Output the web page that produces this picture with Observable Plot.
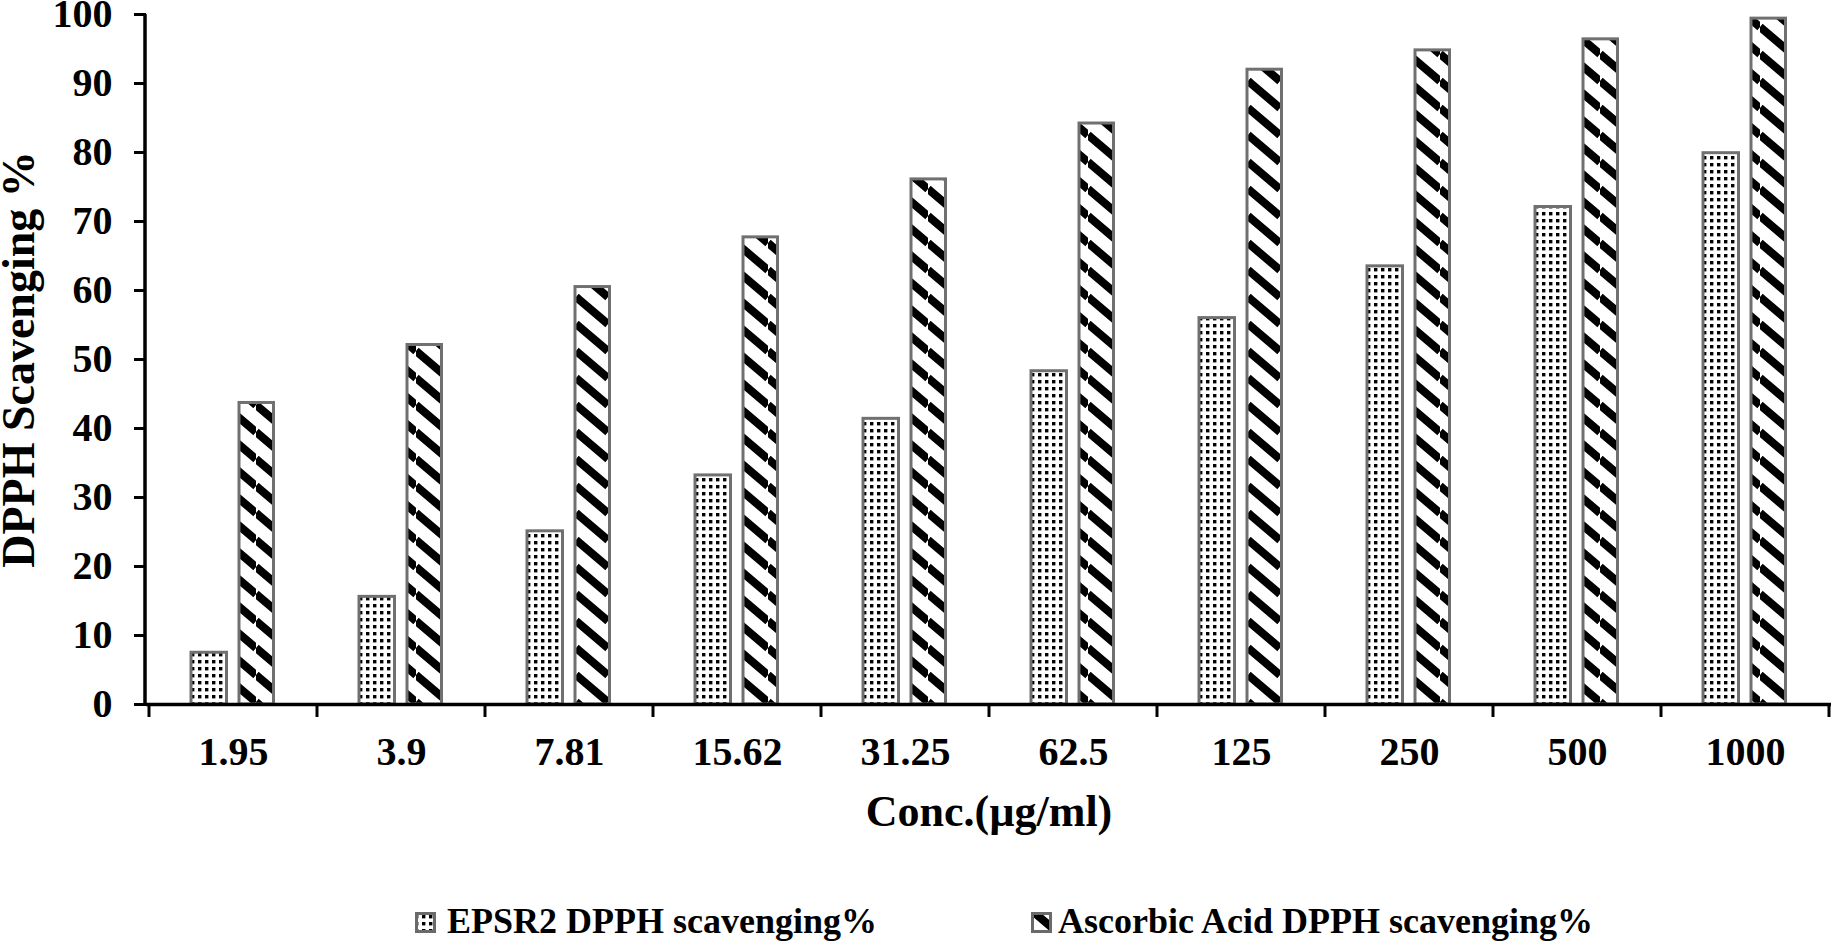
<!DOCTYPE html>
<html>
<head>
<meta charset="utf-8">
<script src="https://cdn.jsdelivr.net/npm/d3@7"></script>
<script src="https://cdn.jsdelivr.net/npm/@observablehq/plot@0.6"></script>
<style>
  html, body { margin: 0; padding: 0; background: #fff; }
  body { width: 1833px; height: 942px; position: relative; overflow: hidden;
         font-family: "Liberation Serif", "Times New Roman", serif; font-weight: bold; }
  #chart { position: absolute; left: 0; top: 0; }
  #legend { position: absolute; left: 0; top: 850px; }
</style>
</head>
<body>
<svg width="0" height="0" style="position:absolute">
  <defs>
    <pattern id="dots" patternUnits="userSpaceOnUse" width="7" height="7">
      <rect width="7" height="7" fill="#fff"/>
      <rect x="2" y="2" width="3.4" height="3.4" fill="#000"/>
    </pattern>
    <pattern id="stripes" patternUnits="userSpaceOnUse" width="32" height="27">
      <rect width="32" height="27" fill="#fff"/>
      <path d="M0,0L32,27M0,-27L32,0M0,27L32,54" stroke="#000" stroke-width="8.2"/>
    </pattern>
  </defs>
</svg>
<div id="chart"></div>
<div id="legend"></div>
<script>
// ---- data ----
const categories = ["1.95", "3.9", "7.81", "15.62", "31.25", "62.5", "125", "250", "500", "1000"];
const epsr2Values = [7.5, 15.6, 25.1, 33.2, 41.4, 48.3, 56.0, 63.5, 72.1, 79.9];
const ascorbicValues = [43.7, 52.1, 60.5, 67.7, 76.1, 84.2, 92.0, 94.8, 96.4, 99.4];
const yTicks = [0, 10, 20, 30, 40, 50, 60, 70, 80, 90, 100];
const seriesNames = ["EPSR2 DPPH scavenging%", "Ascorbic Acid DPPH scavenging%"];
const xTitle = "Conc.(µg/ml)";
const yTitle = "DPPH Scavenging %";

const rowsE = categories.map((c, i) => ({cat: c, value: epsr2Values[i]}));
const rowsA = categories.map((c, i) => ({cat: c, value: ascorbicValues[i]}));

const W = 1833, H = 850;
const FONT = '"Liberation Serif", "Times New Roman", serif';
const barStroke = "#707070";

const plot = Plot.plot({
  width: W,
  height: H,
  marginLeft: 146,
  marginRight: 2,
  marginTop: 14,
  marginBottom: H - 704,
  style: {fontFamily: FONT, fontWeight: "bold", fontSize: "40px", color: "#000", background: "#fff", overflow: "visible"},
  x: {domain: categories, padding: 0},
  y: {domain: [0, 100]},
  marks: [
    Plot.barY(rowsE, {x: "cat", y: "value", fill: "url(#dots)", stroke: barStroke, strokeWidth: 3, insetLeft: 42, insetRight: 90.5}),
    Plot.barY(rowsA, {x: "cat", y: "value", fill: "url(#stripes)", stroke: barStroke, strokeWidth: 3, insetLeft: 90, insetRight: 43.5}),
    Plot.ruleY([0], {stroke: "#000", strokeWidth: 3.5}),
    Plot.axisY({ticks: yTicks, tickSize: 12, tickPadding: 22, strokeWidth: 3, fontSize: 40, label: null}),
    Plot.axisX({tickSize: 0, tickPadding: 32, fontSize: 40, label: null}),
    Plot.text([xTitle], {text: d => d, frameAnchor: "bottom", dy: 121, fontSize: 44, fontWeight: "bold"}),
    Plot.text([yTitle], {text: d => d, frameAnchor: "left", textAnchor: "middle", rotate: -90, dx: -127, dy: 0, fontSize: 46, fontWeight: "bold"})
  ]
});

// category boundary ticks and y-axis line drawn from the plot's own scales
const xs = plot.scale("x"), ys = plot.scale("y");
const svg = d3.select(plot);
const y0 = ys.apply(0), y100 = ys.apply(100);
const bounds = categories.map(c => xs.apply(c)).concat([xs.apply(categories[categories.length - 1]) + xs.bandwidth]);
svg.append("g")
  .selectAll("line").data(bounds).join("line")
  .attr("x1", d => d).attr("x2", d => d)
  .attr("y1", y0).attr("y2", y0 + 13)
  .attr("stroke", "#000").attr("stroke-width", 3);
svg.append("line")
  .attr("x1", xs.range[0] - 1).attr("x2", xs.range[0] - 1)
  .attr("y1", y100).attr("y2", y0 + 1.75)
  .attr("stroke", "#000").attr("stroke-width", 3.5);

document.getElementById("chart").appendChild(plot);

// legend
const legendItems = [
  {name: seriesNames[0], fill: "url(#dots)", sx: 415, tx: 447},
  {name: seriesNames[1], fill: "url(#stripes)", sx: 1031, tx: 1058}
];
const lg = d3.select("#legend").append("svg").attr("width", W).attr("height", 92)
  .style("font-family", FONT).style("font-weight", "bold");
const gi = lg.selectAll("g").data(legendItems).join("g");
gi.append("rect").attr("x", d => d.sx + 1.5).attr("y", 63.5).attr("width", 18).attr("height", 18)
  .attr("fill", d => d.fill).attr("stroke", "#6a6a6a").attr("stroke-width", 3);
gi.append("text").attr("x", d => d.tx).attr("y", 83).attr("font-size", 36).attr("fill", "#000")
  .text(d => d.name);
</script>
</body>
</html>
